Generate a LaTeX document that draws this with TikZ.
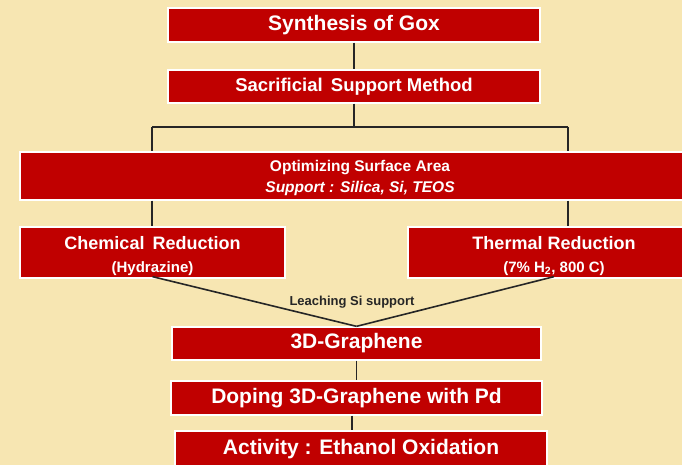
\documentclass[tikz,border=0pt]{standalone}
\usepackage{fontspec}
\setmainfont{Liberation Sans}
\definecolor{bgc}{HTML}{F7E6B2}
\definecolor{boxred}{HTML}{C00000}
\begin{document}
\begin{tikzpicture}[x=1pt,y=-1pt,
  box/.style={fill=boxred, draw=white, line width=1.3pt, text=white, inner sep=0pt,
    font=\bfseries, align=center},
  big/.style={box, font=\fontsize{21}{24}\selectfont\bfseries},
  conn/.style={draw=black!85, line width=1.6pt}]
\useasboundingbox (0,0) rectangle (682,465);
\fill[bgc] (0,0) rectangle (682,465);
\begin{scope}
\clip (0,0) rectangle (682,465);
\node[big, minimum width=372pt, minimum height=34pt] (b1) at (354,25) {Synthesis of Gox};
\node[box, font=\fontsize{18.5}{21}\selectfont\bfseries, minimum width=372pt, minimum height=33pt] (b2) at (354,86.5) {Sacrificial\, Support Method};
\node[box, font=\fontsize{15.5}{21}\selectfont\bfseries, minimum width=680pt, minimum height=48pt] (b3) at (360,176)
  {\rule{0pt}{15.5pt}Optimizing Surface Area\\
   \itshape Support : Silica, Si, TEOS};
\node[box, font=\fontsize{18}{23}\selectfont\bfseries, minimum width=265pt, minimum height=51pt] (b4) at (152.5,252.5)
  {\rule{0pt}{20pt}Chemical\, Reduction\\
   \fontsize{15}{23}\selectfont (Hydrazine)};
\node[box, font=\fontsize{18}{23}\selectfont\bfseries, minimum width=292pt, minimum height=51pt] (b5) at (554,252.5)
  {\rule{0pt}{20pt}Thermal Reduction\\
   \fontsize{15}{23}\selectfont (7\% H\textsubscript{2}, 800 C)};
\node[big, minimum width=369pt, minimum height=33pt] (b6) at (356.5,343.5) {3D-Graphene};
\node[big, minimum width=371pt, minimum height=34pt] (b7) at (356.5,398) {Doping 3D-Graphene with Pd};
\node[big, minimum width=372pt, minimum height=36pt] (b8) at (361,449) {Activity : Ethanol Oxidation};
\end{scope}
\coordinate (jl) at (152,127);
\coordinate (jr) at (568,127);
\draw[conn] (b1.south) -- (b2.north);
\draw[conn] (b2.south) -- (b2.south |- jl);
\draw[conn] (jl) -- (jr);
\draw[conn] (jl) -- (jl |- b3.north);
\draw[conn] (jr) -- (jr |- b3.north);
\draw[conn] (jl |- b3.south) -- (jl |- b4.north);
\draw[conn] (jr |- b3.south) -- (jr |- b5.north);
\draw[conn] ([yshift=2pt]b4.south) -- (b6.north);
\draw[conn] ([yshift=2pt]b5.south) -- (b6.north);
\node[font=\fontsize{13}{15}\selectfont\bfseries, text=black!85, inner sep=0pt] (lab) at (352,302) {Leaching Si support};
\draw[conn] (b6.south) -- (b7.north);
\draw[conn] ([xshift=-4.5pt]b7.south) -- ([xshift=-4.5pt]b7.south |- b8.north);
\end{tikzpicture}
\end{document}
